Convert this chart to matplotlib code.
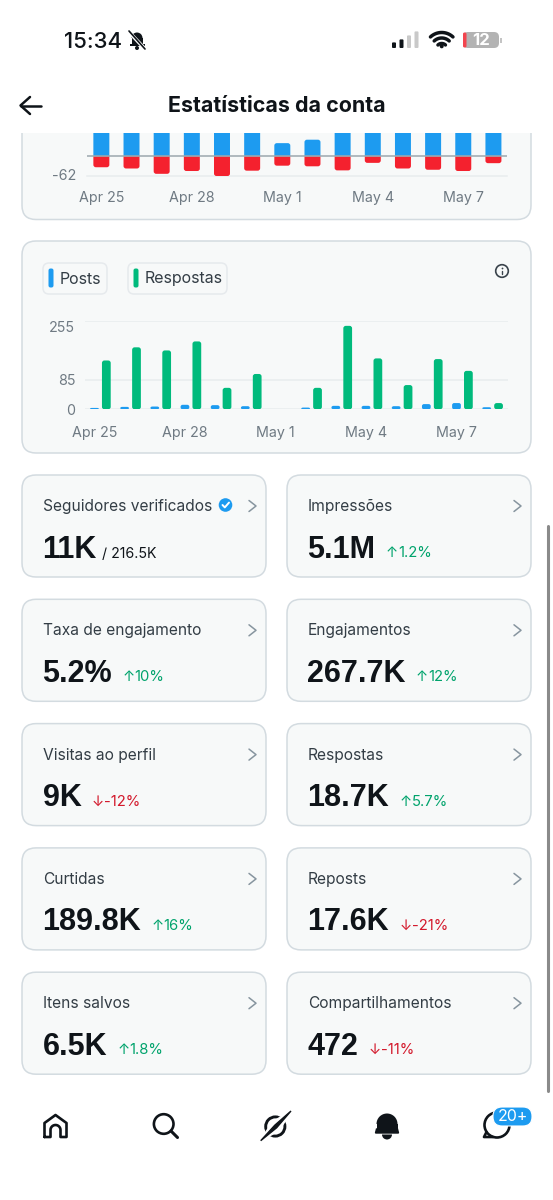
import numpy as np
import matplotlib
matplotlib.use('Agg')
import matplotlib.pyplot as plt
from matplotlib.patches import FancyBboxPatch, PathPatch, Circle, Rectangle, Wedge
from matplotlib.path import Path
from matplotlib.transforms import ScaledTranslation

plt.rcParams['font.family'] = ['Inter', 'DejaVu Sans']

#chart data
top_blue = [100, 100, 100, 100, 100, 100, 42, 53, 100, 100, 100, 100, 100, 100]
top_red = [-35, -39, -56, -47, -63, -46, -30, -32, -45, -21, -39, -43, -47, -22]
top_ticks = [-62]
posts = [4, 7, 8, 13, 12, 9, 0, 5, 10, 10, 9, 15, 18, 6]
respostas = [141, 179, 170, 196, 62, 102, 0, 62, 241, 147, 70, 145, 111, 18]
low_ticks = [0, 85, 255]
date_index = [0, 3, 6, 9, 12]
date_labels = ['Apr 25', 'Apr 28', 'May 1', 'May 4', 'May 7']

card_labels = ['Seguidores verificados', 'Impressões', 'Taxa de engajamento', 'Engajamentos',
	'Visitas ao perfil', 'Respostas', 'Curtidas', 'Reposts', 'Itens salvos', 'Compartilhamentos']
card_values = ['11K', '5.1M', '5.2%', '267.7K', '9K', '18.7K', '189.8K', '17.6K', '6.5K', '472']
card_deltas = [None, 1.2, 10, 12, -12, 5.7, 16, -21, 1.8, -11]

BLUE = '#1d9bf0'
RED = '#f4212e'
GREEN = '#00ba7c'
DARK = '#0f1419'
CARD = '#f7f9f9'
EDGE = '#d3dbe0'
GRID = '#e8ecee'
TICK = '#6f7a83'
W, H = 553, 1200

fig = plt.figure(figsize=(W/100, H/100), dpi=100, facecolor='white')
bg = fig.add_axes([0, 0, 1, 1])
bg.set_xlim(0, W)
bg.set_ylim(H, 0)
bg.axis('off')

#pixel box to inset axes
def px_axes(x0, y0, x1, y1):
	a = fig.add_axes([x0/W, 1-y1/H, (x1-x0)/W, (y1-y0)/H], zorder=3)
	a.patch.set_alpha(0)
	for s in a.spines.values():
		s.set_visible(False)
	return a

def card(x0, y0, x1, y1, r=14, fc=CARD, ec=EDGE, lw=1.1, z=1):
	bg.add_patch(FancyBboxPatch((x0+r, y0+r), x1-x0-2*r, y1-y0-2*r, boxstyle=f'round,pad={r},rounding_size={r}',
		fc=fc, ec=ec, lw=lw, zorder=z))

#bar with rounded corners, radius in pixels. base_round False keeps the baseline end square
def round_bar(ax, x, width, val, color, r_px=2.5, base_round=False):
	if val == 0:
		return
	pos = ax.get_position()
	xlim, ylim = ax.get_xlim(), ax.get_ylim()
	sx = pos.width*W/(xlim[1]-xlim[0])
	sy = pos.height*H/(ylim[1]-ylim[0])
	s = np.sign(val)
	rx = min(r_px/sx, width/2)
	ry = min(r_px/sy, abs(val)/(2 if base_round else 1))
	l, r = x-width/2, x+width/2
	verts = [(l, s*ry if base_round else 0), (l, val-s*ry), (l, val), (l+rx, val), (r-rx, val), (r, val), (r, val-s*ry)]
	codes = [Path.MOVETO, Path.LINETO, Path.CURVE3, Path.CURVE3, Path.LINETO, Path.CURVE3, Path.CURVE3]
	if base_round:
		verts += [(r, s*ry), (r, 0), (r-rx, 0), (l+rx, 0), (l, 0), (l, s*ry)]
		codes += [Path.LINETO, Path.CURVE3, Path.CURVE3, Path.LINETO, Path.CURVE3, Path.CURVE3]
	else:
		verts += [(r, 0), (l, 0)]
		codes += [Path.LINETO, Path.LINETO]
	verts.append(verts[0])
	codes.append(Path.CLOSEPOLY)
	ax.add_patch(PathPatch(Path(verts, codes), fc=color, ec='none', zorder=3))

def stroke(xs, ys, color=DARK, lw=2.2, z=6):
	bg.plot(xs, ys, color=color, lw=lw, solid_capstyle='round', solid_joinstyle='round', zorder=z)

#top chart card, cut by the header
card(22, 60, 531, 219.5)
bg.add_patch(Rectangle((0, 0), W, 133, fc='white', ec='none', zorder=2))

ax1 = px_axes(86.7, 133, 506.7, 175.7)
ax1.set_xlim(-0.486, 13.44)
ax1.set_ylim(-62, 74.4)
for i in range(len(top_blue)):
	round_bar(ax1, i, 0.53, top_blue[i], BLUE)
	round_bar(ax1, i, 0.53, top_red[i], RED)
ax1.axhline(0, color='#9ca7ae', lw=1.1, zorder=4)
ax1.axhline(-62, color=GRID, lw=1.1, zorder=1, clip_on=False)
ax1.set_yticks(top_ticks)
ax1.set_yticklabels([str(t) for t in top_ticks])
ax1.set_xticks(date_index)
ax1.set_xticklabels(date_labels)
ax1.tick_params(length=0, labelsize=10.3, labelcolor=TICK)
ax1.tick_params(axis='x', pad=11)
ax1.tick_params(axis='y', pad=7.5)
low_lab = ax1.get_yticklabels()[0]
low_lab.set_transform(low_lab.get_transform() + ScaledTranslation(0, 1.5/100, fig.dpi_scale_trans))

#lower chart
card(22, 241, 531, 453)
ax2 = px_axes(85, 321, 507.7, 409.3)
ax2.set_xlim(-0.51, 13.5)
ax2.set_ylim(0, 255)
off = 0.197
for i in range(len(posts)):
	round_bar(ax2, i-off, 0.29, posts[i], BLUE, r_px=2, base_round=True)
	round_bar(ax2, i+off, 0.29, respostas[i], GREEN, r_px=2.5, base_round=True)
ax2.set_yticks(low_ticks)
ax2.set_yticklabels([str(t) for t in low_ticks])
ax2.grid(axis='y', color=GRID, lw=1.1, zorder=0)
ax2.set_axisbelow(True)
ax2.set_xticks(np.array(date_index)-off)
ax2.set_xticklabels(date_labels)
ax2.tick_params(length=0, labelsize=10.3, labelcolor=TICK)
ax2.tick_params(axis='x', pad=12)
ax2.tick_params(axis='y', pad=7)
#the top label sits under its grid line
top_lab = ax2.get_yticklabels()[2]
top_lab.set_transform(top_lab.get_transform() + ScaledTranslation(0, -5/100, fig.dpi_scale_trans))

#legend chips
for x0, x1, name, col in [(43, 107, 'Posts', BLUE), (128, 227, 'Respostas', GREEN)]:
	card(x0, 263, x1, 294, r=6, fc=CARD, ec='#e6eaed', lw=1.1, z=2)
	bg.add_patch(FancyBboxPatch((x0+7, 270), 2, 16, boxstyle='round,pad=1.5,rounding_size=2', fc=col, ec='none', zorder=4))
	bg.text(x0+17, 279, name, fontsize=11.5, color='#333d45', va='center', zorder=4)

#info icon
bg.add_patch(Circle((502, 271), 6.3, fc='none', ec='#3a444c', lw=1.2, zorder=4))
stroke([502, 502], [270.5, 274.2], '#3a444c', 1.0, 5)
bg.plot([502], [267.6], 'o', ms=1.3, mew=0, color='#3a444c', zorder=5)

#stat cards
for n in range(len(card_labels)):
	row, col = n//2, n%2
	x0 = 22 if col == 0 else 287
	y0 = 475 + row*124.3
	card(x0, y0, x0+244, y0+102)
	bg.text(x0+21, y0+31.5, card_labels[n], fontsize=11.2, color='#333d45', va='center', zorder=4)
	stroke([x0+227, x0+234, x0+227], [y0+25.5, y0+31, y0+36.5], '#87959f', 1.1, 5)
	val = bg.text(x0+20.5, y0+82.5, card_values[n], fontsize=22, fontweight='bold', family='Liberation Sans',
		color=DARK, va='baseline', zorder=4)
	fig.canvas.draw()
	right = bg.transData.inverted().transform(val.get_window_extent(fig.canvas.get_renderer()).get_points())[1][0]
	d = card_deltas[n]
	if d is None:
		bg.text(right+5, y0+83, '/ 216.5K', fontsize=10.2, color=DARK, va='baseline', zorder=4)
	else:
		c = '#00a36c' if d > 0 else '#d3182b'
		bg.text(right+10, y0+82, '↑' if d > 0 else '↓', fontsize=10.5, color=c, va='baseline', zorder=4)
		bg.text(right+22.5, y0+82, f'{d:g}%', fontsize=10.7, color=c, va='baseline', zorder=4)

#verified badge
bg.add_patch(Circle((225.5, 505), 6.8, fc=BLUE, ec='none', zorder=4))
stroke([222.5, 224.8, 229], [505, 507.4, 502.6], 'white', 1.4, 5)

#header
bg.text(64, 42, '15:34', fontsize=16, fontweight='medium', color=DARK, va='center', zorder=5)
bg.add_patch(Wedge((137, 38), 5.5, 180, 360, fc=DARK, ec='none', zorder=5))
bg.add_patch(Rectangle((131.5, 38), 11, 7, fc=DARK, ec='none', zorder=5))
bg.add_patch(Rectangle((129.5, 44), 15, 2, fc=DARK, ec='none', zorder=5))
bg.add_patch(Circle((137, 48), 2, fc=DARK, ec='none', zorder=5))
stroke([129, 146], [32, 50], 'white', 2.6, 6)
stroke([129, 145], [31, 49], DARK, 1.2, 7)
for k, (hh, c) in enumerate(zip([4, 7, 11, 15], [DARK, DARK, '#c9c9c9', '#c9c9c9'])):
	bg.add_patch(FancyBboxPatch((392.8+k*7.5, 47.2-hh), 2.4, hh, boxstyle='round,pad=0.8,rounding_size=1', fc=c, ec='none', zorder=5))
for rr in [16.5, 11, 5.5]:
	t = np.radians(np.linspace(-133, -47, 20))
	stroke(441.7+rr*np.cos(t), 49+rr*np.sin(t), DARK, 2.5, 5)
bg.add_patch(Circle((441.7, 46.3), 2, fc=DARK, ec='none', zorder=5))
bg.add_patch(FancyBboxPatch((467, 36), 28, 8, boxstyle='round,pad=4,rounding_size=5', fc='#b3b3b3', ec='none', zorder=5))
bg.add_patch(FancyBboxPatch((464.5, 34), 0.5, 12, boxstyle='round,pad=1.5,rounding_size=1.5', fc='#f2444e', ec='none', zorder=6))
bg.add_patch(Rectangle((500, 37.5), 1.6, 5, fc='#c4c4c4', ec='none', zorder=5))
bg.text(481, 40.5, '12', fontsize=12, fontweight='bold', color='white', ha='center', va='center', zorder=7)
stroke([30, 20.5, 30], [97, 105.5, 114], DARK, 1.8)
stroke([20.5, 40.5], [105.5, 105.5], DARK, 1.8)
bg.text(276.5, 106, 'Estatísticas da conta', fontsize=15.4, fontweight='bold', color=DARK, ha='center', va='center', zorder=5)

#scrollbar
stroke([547.5, 547.5], [526, 1091], '#8a8a8a', 2.2, 6)

#bottom nav icons
arch = np.radians(np.linspace(0, -180, 15))
home_x = np.r_[44.5, 44.5, 55.5, 66.5, 66.5, 60.5, 55.5+5*np.cos(arch), 50.5, 44.5]
home_y = np.r_[1137, 1123, 1115, 1123, 1137, 1137, 1130+5*np.sin(arch), 1137, 1137]
stroke(home_x, home_y, DARK, 1.9)
bg.add_patch(Circle((163.7, 1124), 9.8, fc='none', ec=DARK, lw=1.9, zorder=6))
stroke([171, 177.5], [1131, 1137.5], DARK, 2.2)
bg.add_patch(Circle((275.3, 1126.5), 9.6, fc='none', ec=DARK, lw=2.1, zorder=6))
bg.fill([260.7, 279.5, 291, 272], [1140.7, 1130.5, 1111, 1122], color='white', zorder=7)
bg.fill([260.7, 276.6, 291, 274.8], [1140.7, 1127.8, 1111, 1125.2], color=DARK, zorder=8)
bg.add_patch(Wedge((387, 1124), 10.5, 180, 360, fc=DARK, ec='none', zorder=6))
bg.add_patch(Rectangle((376.5, 1123.5), 21, 8.5, fc=DARK, ec='none', zorder=6))
bg.fill([376.5, 397.5, 398.5, 375.5], [1129, 1129, 1133, 1133], color=DARK, zorder=6)
bg.add_patch(Wedge((387, 1134.5), 5, 0, 180, fc=DARK, ec='none', zorder=6))
bg.add_patch(Circle((497, 1125), 12.5, fc='none', ec=DARK, lw=1.9, zorder=6))
stroke([486.5, 484, 493], [1132, 1137, 1137], DARK, 1.9)
bg.add_patch(FancyBboxPatch((502, 1116), 21, 1, boxstyle='round,pad=9,rounding_size=9', fc=BLUE, ec='white', lw=0.8, zorder=8))
bg.text(512.5, 1116.5, '20+', fontsize=11.5, color='white', ha='center', va='center', zorder=9)

fig.savefig('out.png', dpi=100)
